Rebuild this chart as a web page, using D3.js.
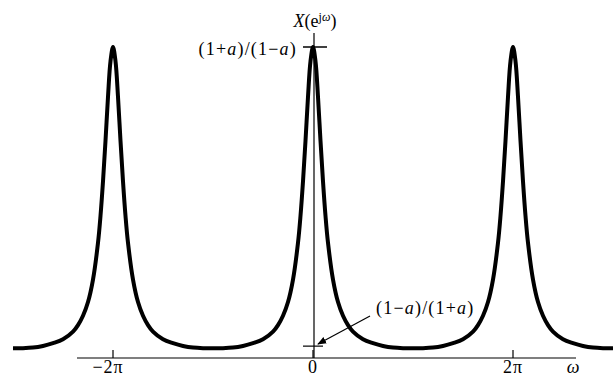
<!DOCTYPE html>
<html>
<head>
<meta charset="utf-8">
<script src="https://cdn.jsdelivr.net/npm/d3@7"></script>
<style>
    body { margin: 0; background: #fff; }
    svg { display: block; }
    text { font-family: "Liberation Serif", "DejaVu Serif", serif; fill: #000; }
</style>
</head>
<body>
<div id="chart"></div>
<script>
"use strict";

// omega in units of pi
const omegaPi = [
    -3, -2.9, -2.8, -2.7, -2.6, -2.5, -2.4, -2.35, -2.3, -2.25, -2.2, -2.15, -2.125, -2.1, -2.075, -2.05, -2.025,
    -2, -1.975, -1.95, -1.925, -1.9, -1.875, -1.85, -1.8, -1.75, -1.7, -1.65, -1.6, -1.5, -1.4, -1.3, -1.2, -1.1,
    -1, -0.9, -0.8, -0.7, -0.6, -0.5, -0.4, -0.35, -0.3, -0.25, -0.2, -0.15, -0.125, -0.1, -0.075, -0.05, -0.025,
    0, 0.025, 0.05, 0.075, 0.1, 0.125, 0.15, 0.2, 0.25, 0.3, 0.35, 0.4, 0.5, 0.6, 0.7, 0.8, 0.9,
    1, 1.1, 1.2, 1.3, 1.4, 1.5, 1.6, 1.65, 1.7, 1.75, 1.8, 1.85, 1.875, 1.9, 1.925, 1.95, 1.975,
    2, 2.025, 2.05, 2.075, 2.1, 2.125, 2.15, 2.2, 2.25, 2.3, 2.35, 2.4, 2.5, 2.6, 2.7, 2.8, 2.9, 3
];

// |X(e^jw)| estimated from the curve (arbitrary units, peak = (1+a)/(1-a))
const magnitude = [
    0.18, 0.18, 0.19, 0.22, 0.27, 0.34, 0.48, 0.60, 0.77, 1.02, 1.43, 2.10, 2.59, 3.22, 3.96, 4.76, 5.41,
    5.67, 5.41, 4.76, 3.96, 3.22, 2.59, 2.10, 1.43, 1.02, 0.77, 0.60, 0.48, 0.34, 0.27, 0.22, 0.19, 0.18,
    0.18, 0.18, 0.19, 0.22, 0.27, 0.34, 0.48, 0.60, 0.77, 1.02, 1.43, 2.10, 2.59, 3.22, 3.96, 4.76, 5.41,
    5.67, 5.41, 4.76, 3.96, 3.22, 2.59, 2.10, 1.43, 1.02, 0.77, 0.60, 0.48, 0.34, 0.27, 0.22, 0.19, 0.18,
    0.18, 0.18, 0.19, 0.22, 0.27, 0.34, 0.48, 0.60, 0.77, 1.02, 1.43, 2.10, 2.59, 3.22, 3.96, 4.76, 5.41,
    5.67, 5.41, 4.76, 3.96, 3.22, 2.59, 2.10, 1.43, 1.02, 0.77, 0.60, 0.48, 0.34, 0.27, 0.22, 0.19, 0.18, 0.18
];

const tickValues = [-2, 0, 2];
const tickLabels = ["\u22122\u03c0", "0", "2\u03c0"];
const peakValue = 5.67;
const minValue = 0.18;

const width = 614, height = 378;

const svg = d3.select("#chart").append("svg")
    .attr("width", width)
    .attr("height", height);

const x = d3.scaleLinear().domain([-3, 3]).range([13, 613]);
const y = d3.scaleLinear().domain([0, peakValue]).range([358, 47]);

// horizontal axis
svg.append("line")
    .attr("x1", 77).attr("x2", 576)
    .attr("y1", y(0)).attr("y2", y(0))
    .attr("stroke", "#000").attr("stroke-width", 1.2);

svg.selectAll(".tick")
    .data(tickValues)
    .enter()
    .append("line")
    .attr("class", "tick")
    .attr("x1", d => x(d)).attr("x2", d => x(d))
    .attr("y1", y(0) - 8).attr("y2", y(0))
    .attr("stroke", "#000").attr("stroke-width", 1.2);

svg.selectAll(".tlabel")
    .data(tickValues)
    .enter()
    .append("text")
    .attr("class", "tlabel")
    .attr("x", (d, i) => x(d) - (i == 0 ? 5 : 0))
    .attr("y", 373)
    .attr("text-anchor", "middle")
    .style("font-size", "18px")
    .style("letter-spacing", "1px")
    .text((d, i) => tickLabels[i]);

svg.append("text")
    .attr("x", 573).attr("y", 373)
    .attr("text-anchor", "middle")
    .style("font-size", "18px")
    .style("font-style", "italic")
    .text("\u03c9");

// vertical axis
svg.append("line")
    .attr("x1", x(0) + 1).attr("x2", x(0) + 1)
    .attr("y1", 33).attr("y2", y(0))
    .attr("stroke", "#000").attr("stroke-width", 1.2);

// markers for max and min
svg.append("line")
    .attr("x1", x(0) - 10).attr("x2", x(0) + 14)
    .attr("y1", y(peakValue)).attr("y2", y(peakValue))
    .attr("stroke", "#000").attr("stroke-width", 1.5);

svg.append("line")
    .attr("x1", x(0) - 10).attr("x2", x(0) + 10)
    .attr("y1", y(minValue) - 2).attr("y2", y(minValue) - 2)
    .attr("stroke", "#000").attr("stroke-width", 1.2);

// the spectrum curve
const line = d3.line()
    .x((d, i) => x(omegaPi[i]))
    .y(d => y(d))
    .curve(d3.curveCatmullRom);

svg.append("path")
    .datum(magnitude)
    .attr("d", line)
    .attr("fill", "none")
    .attr("stroke", "#000")
    .attr("stroke-width", 4)
    .attr("stroke-linejoin", "round")
    .attr("stroke-linecap", "butt");

// labels
const title = svg.append("text")
    .attr("x", x(0) + 2).attr("y", 27)
    .attr("text-anchor", "middle")
    .style("font-size", "18px");
title.append("tspan").style("font-style", "italic").text("X");
title.append("tspan").text("(e");
title.append("tspan").attr("dy", -6).style("font-size", "12px").text("j");
title.append("tspan").style("font-size", "12px").style("font-style", "italic").text("\u03c9");
title.append("tspan").attr("dy", 6).text(")");

function ratioLabel(sel, first, second) {
    sel.append("tspan").text("(1" + first);
    sel.append("tspan").style("font-style", "italic").text("a");
    sel.append("tspan").text(")/(1" + second);
    sel.append("tspan").style("font-style", "italic").text("a");
    sel.append("tspan").text(")");
}

const topLabel = svg.append("text")
    .attr("x", 297).attr("y", 55)
    .attr("text-anchor", "end")
    .style("font-size", "18px")
    .style("letter-spacing", "1.2px");
ratioLabel(topLabel, "+", "\u2212");

const bottomLabel = svg.append("text")
    .attr("x", 376).attr("y", 314)
    .style("font-size", "18px")
    .style("letter-spacing", "1.2px");
ratioLabel(bottomLabel, "\u2212", "+");

// arrow to the min marker
svg.append("defs").append("marker")
    .attr("id", "arrow")
    .attr("viewBox", "0 0 10 10")
    .attr("refX", 9).attr("refY", 5)
    .attr("markerWidth", 9).attr("markerHeight", 9)
    .attr("markerUnits", "userSpaceOnUse")
    .attr("orient", "auto")
    .append("path")
    .attr("d", "M0,1 L10,5 L0,9 Z")
    .attr("fill", "#000");

svg.append("line")
    .attr("x1", 370).attr("y1", 316)
    .attr("x2", 318).attr("y2", 344)
    .attr("stroke", "#000").attr("stroke-width", 1.2)
    .attr("marker-end", "url(#arrow)");
</script>
</body>
</html>
